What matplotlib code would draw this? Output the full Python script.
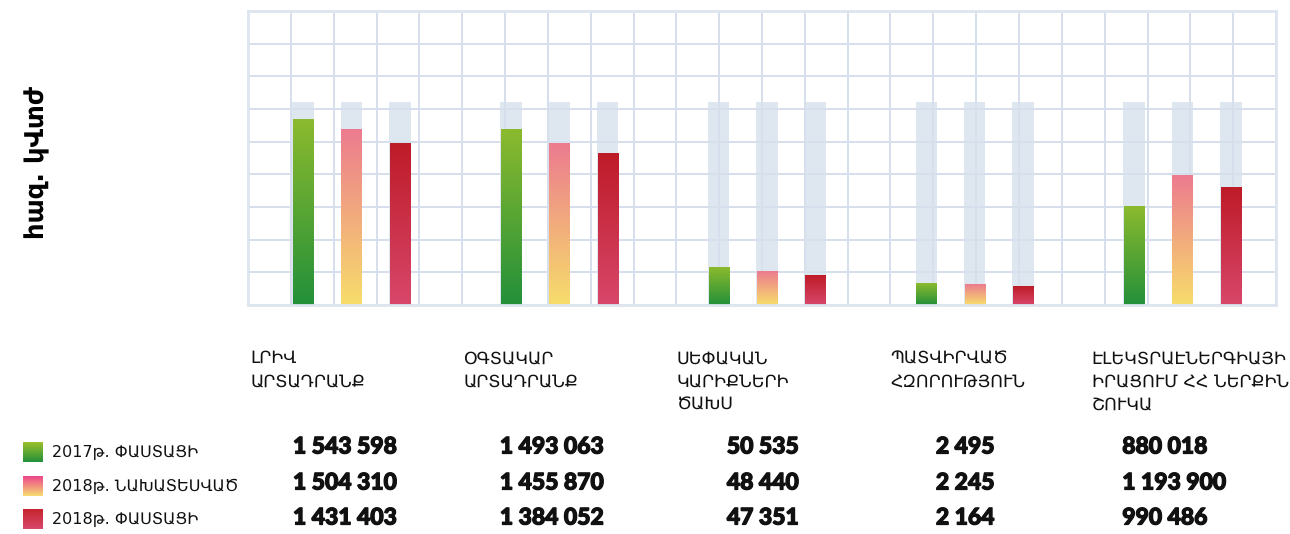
import numpy as np
import matplotlib
matplotlib.use("Agg")
import matplotlib.pyplot as plt
import matplotlib.patheffects as pe
from matplotlib.colors import LinearSegmentedColormap
from matplotlib.transforms import blended_transform_factory

# data
categories = [
    "ԼՐԻՎ\nԱՐՏԱԴՐԱՆՔ",
    "ՕԳՏԱԿԱՐ\nԱՐՏԱԴՐԱՆՔ",
    "ՍԵՓԱԿԱՆ\nԿԱՐԻՔՆԵՐԻ\nԾԱԽՍ",
    "ՊԱՏՎԻՐՎԱԾ\nՀԶՈՐՈՒԹՅՈՒՆ",
    "ԷԼԵԿՏՐԱԷՆԵՐԳԻԱՅԻ\nԻՐԱՑՈՒՄ ՀՀ ՆԵՐՔԻՆ\nՇՈՒԿԱ",
]
series_names = ["2017թ. ՓԱՍՏԱՑԻ", "2018թ. ՆԱԽԱՏԵՍՎԱԾ", "2018թ. ՓԱՍՏԱՑԻ"]
fact_2017 = [1543598, 1493063, 50535, 2495, 880018]
plan_2018 = [1504310, 1455870, 48440, 2245, 1193900]
fact_2018 = [1431403, 1384052, 47351, 2164, 990486]

# bar levels as drawn in the infographic (grid rows, not to scale with the values)
level_2017 = [5.67, 5.37, 1.16, 0.67, 3.02]
level_plan = [5.37, 4.94, 1.04, 0.64, 3.96]
level_2018 = [4.94, 4.63, 0.91, 0.58, 3.60]
track_level = 6.22

y_label = "հազ. կՎտժ"

# bottom -> top colours of each series
grad_colors = [("#23903a", "#8cba2e"), ("#f7dd6b", "#ec7b8f"), ("#d8476a", "#be1b28")]
swatch_colors = [("#24903a", "#9cc12c"), ("#f7dc72", "#ec3e8c"), ("#d8486a", "#c6242f")]


def fmt(v):
    return f"{v:,}".replace(",", " ")


def gradient(c0, c1):
    cmap = LinearSegmentedColormap.from_list("g", [c0, c1])
    return cmap(np.linspace(0, 1, 256))[::-1].reshape(256, 1, 4)


fig = plt.figure(figsize=(12.9, 5.34), dpi=100)
ax = fig.add_axes([248 / 1290, 1 - 305 / 534, 1028 / 1290, 294 / 534])

ncols, nrows = 24, 9
ax.set_xlim(0, ncols)
ax.set_ylim(0, nrows)
ax.set_xticks(np.arange(0, ncols + 1))
ax.set_yticks(np.arange(0, nrows + 1))
ax.grid(True, color="#d6dfec", lw=1.4, zorder=0)
ax.tick_params(left=False, bottom=False, labelleft=False, labelbottom=False)
for s in ax.spines.values():
    s.set_color("#dde5ef")
    s.set_linewidth(2)

centers = 2.416 + 4.85 * np.arange(len(categories))
offset = 1.13
width = 0.47
levels = [level_2017, level_plan, level_2018]

for k, lv in enumerate(levels):
    xs = centers + (k - 1) * offset
    ax.bar(xs, [track_level] * len(xs), width=width + 0.03, color="#b7c8df",
           alpha=0.45, zorder=1, lw=0)
    img = gradient(*grad_colors[k])
    for x, h in zip(xs, lv):
        ax.imshow(img, extent=[x - width / 2, x + width / 2, 0, h],
                  aspect="auto", zorder=2, interpolation="bilinear")
ax.set_xlim(0, ncols)
ax.set_ylim(0, nrows)

fig.text(37 / 1290, 1 - 162 / 534, y_label, rotation=90, ha="center", va="center",
         fontsize=18.5, fontweight="bold", family="DejaVu Sans")

tr = blended_transform_factory(ax.transData, fig.transFigure)
label_x = [0.05, 5.02, 10.0, 15.0, 19.7]
for x, lab in zip(label_x, categories):
    ax.text(x, 1 - 349 / 534, lab, transform=tr, ha="left", va="top",
            fontsize=12.5, linespacing=1.37, color="#111111", family="DejaVu Sans")

rows_y = [447, 483, 518]
value_x = [1.05, 5.88, 11.18, 16.06, 20.41]
heavy = [pe.withStroke(linewidth=0.9, foreground="#111111")]
for r, vals in enumerate([fact_2017, plan_2018, fact_2018]):
    for x, v in zip(value_x, vals):
        ax.text(x, 1 - rows_y[r] / 534, fmt(v), transform=tr, ha="left", va="center",
                fontsize=16.5, fontweight="black", color="#111111", family="Lato",
                path_effects=heavy)

for r, name in enumerate(series_names):
    yc = [452, 486, 519][r]
    sax = fig.add_axes([23 / 1290, 1 - (yc + 10) / 534, 20 / 1290, 20 / 534])
    sax.imshow(gradient(*swatch_colors[r]), aspect="auto", extent=[0, 1, 0, 1],
               interpolation="bilinear")
    sax.axis("off")
    fig.text(52 / 1290, 1 - yc / 534, name, ha="left", va="center", fontsize=11.5,
             color="#111111", family="DejaVu Sans")

fig.savefig("out.png", dpi=100)
